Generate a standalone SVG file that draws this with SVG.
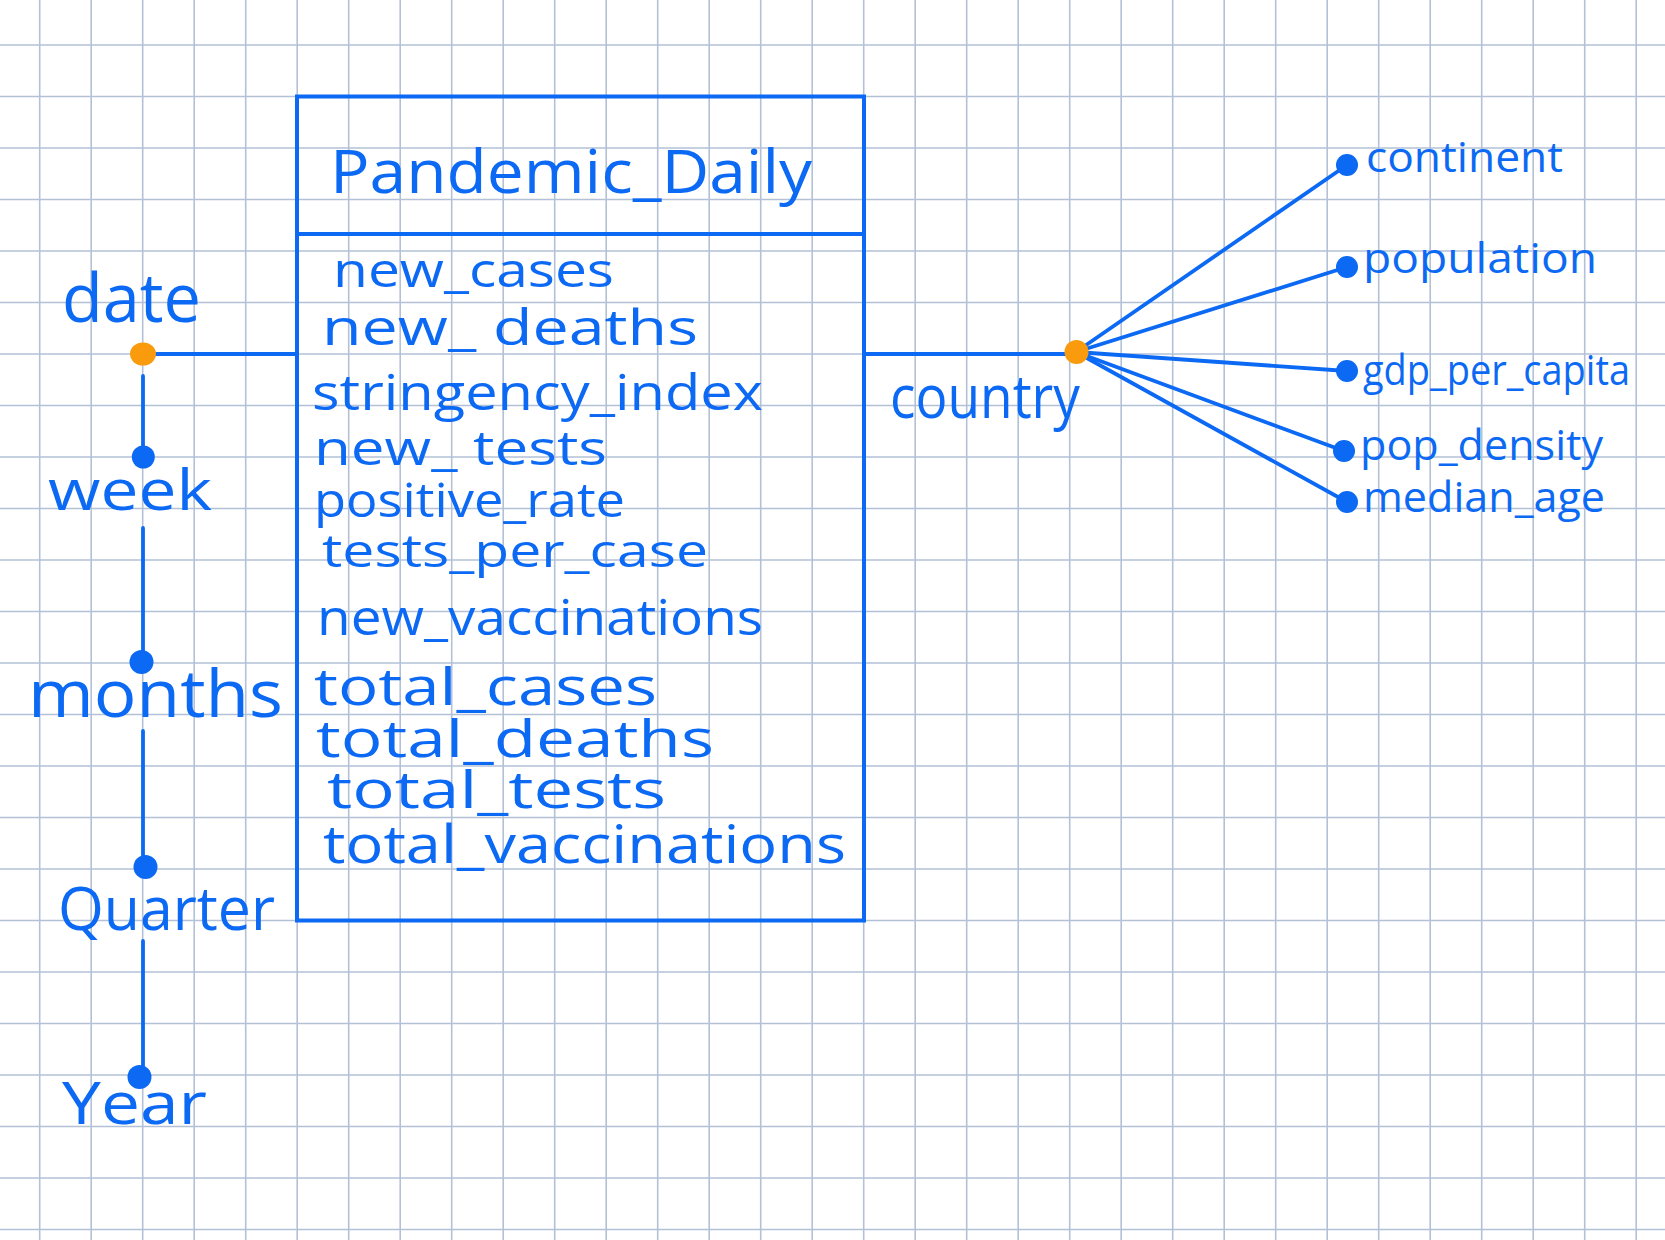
<svg xmlns="http://www.w3.org/2000/svg" width="1665" height="1240" viewBox="0 0 1665 1240">
<style>
.grid{stroke:#b3c1d8;stroke-width:1.6;fill:none}
.box{fill:none;stroke:#0b69f4;stroke-width:4}
.ln{stroke:#0b69f4;stroke-width:3.8;stroke-linecap:round;fill:none}
.dot{fill:#0b69f4}
.odot{fill:#f99b0c}
text{font-family:"Open Sans","Liberation Sans",sans-serif;fill:#0b69f4;font-weight:500}
</style>
<rect width="1665" height="1240" fill="#ffffff"/>
<path class="grid" d="M39.7 0V1240M91.2 0V1240M142.7 0V1240M194.2 0V1240M245.7 0V1240M297.2 0V1240M348.7 0V1240M400.2 0V1240M451.7 0V1240M503.2 0V1240M554.7 0V1240M606.2 0V1240M657.7 0V1240M709.2 0V1240M760.7 0V1240M812.2 0V1240M863.7 0V1240M915.2 0V1240M966.7 0V1240M1018.2 0V1240M1069.7 0V1240M1121.2 0V1240M1172.7 0V1240M1224.2 0V1240M1275.7 0V1240M1327.2 0V1240M1378.7 0V1240M1430.2 0V1240M1481.7 0V1240M1533.2 0V1240M1584.7 0V1240M1636.2 0V1240M0 45H1665M0 96.5H1665M0 148H1665M0 199.5H1665M0 251H1665M0 302.5H1665M0 354H1665M0 405.5H1665M0 457H1665M0 508.5H1665M0 560H1665M0 611.5H1665M0 663H1665M0 714.5H1665M0 766H1665M0 817.5H1665M0 869H1665M0 920.5H1665M0 972H1665M0 1023.5H1665M0 1075H1665M0 1126.5H1665M0 1178H1665M0 1229.5H1665"/>

<g id="connectors">
<path class="ln" d="M155 354H297"/>
<path class="ln" d="M864 354H1066"/>
<path class="ln" d="M143 376V447"/>
<path class="ln" d="M143 528V652"/>
<path class="ln" d="M143 731V862"/>
<path class="ln" d="M143 941V1072"/>
<path class="ln" d="M1076 352L1347 165"/>
<path class="ln" d="M1076 352L1347 267"/>
<path class="ln" d="M1076 352L1347 371"/>
<path class="ln" d="M1076 352L1344 451"/>
<path class="ln" d="M1076 352L1347 502"/>
</g>

<g id="table">
<rect class="box" x="297" y="96.5" width="567" height="824"/>
<line class="box" x1="297" y1="234" x2="864" y2="234"/>
<text x="330" y="193" font-size="60" textLength="482" lengthAdjust="spacingAndGlyphs">Pandemic_Daily</text>
<text x="333" y="287" font-size="48" textLength="281" lengthAdjust="spacingAndGlyphs">new_cases</text>
<text x="322" y="345" font-size="50" textLength="376" lengthAdjust="spacingAndGlyphs">new_ deaths</text>
<text x="312" y="410" font-size="50" textLength="451" lengthAdjust="spacingAndGlyphs">stringency_index</text>
<text x="314" y="465" font-size="48" textLength="293" lengthAdjust="spacingAndGlyphs">new_ tests</text>
<text x="314" y="517" font-size="48" textLength="311" lengthAdjust="spacingAndGlyphs">positive_rate</text>
<text x="322" y="567" font-size="46" textLength="386" lengthAdjust="spacingAndGlyphs">tests_per_case</text>
<text x="317" y="635" font-size="50" textLength="446" lengthAdjust="spacingAndGlyphs">new_vaccinations</text>
<text x="314" y="705" font-size="51" textLength="343" lengthAdjust="spacingAndGlyphs">total_cases</text>
<text x="316" y="757" font-size="51" textLength="398" lengthAdjust="spacingAndGlyphs">total_deaths</text>
<text x="327" y="808" font-size="51" textLength="339" lengthAdjust="spacingAndGlyphs">total_tests</text>
<text x="323" y="863" font-size="53" textLength="523" lengthAdjust="spacingAndGlyphs">total_vaccinations</text>
</g>

<g id="date">
<ellipse class="odot" cx="143" cy="354" rx="13" ry="11.5"/>
<text x="62" y="322" font-size="68" textLength="139" lengthAdjust="spacingAndGlyphs">date</text>
</g>
<g id="week">
<circle class="dot" cx="143.3" cy="457" r="11.5"/>
<text x="48" y="510" font-size="56" textLength="164" lengthAdjust="spacingAndGlyphs">week</text>
</g>
<g id="months">
<circle class="dot" cx="141.5" cy="662" r="12"/>
<text x="28" y="717" font-size="66" textLength="255" lengthAdjust="spacingAndGlyphs">months</text>
</g>
<g id="quarter">
<circle class="dot" cx="145.5" cy="867" r="12"/>
<text x="58" y="930" font-size="60" textLength="217" lengthAdjust="spacingAndGlyphs">Quarter</text>
</g>
<g id="year">
<circle class="dot" cx="139.5" cy="1077" r="12"/>
<text x="62" y="1124" font-size="58" textLength="145" lengthAdjust="spacingAndGlyphs">Year</text>
</g>

<g id="country">
<circle class="odot" cx="1076.5" cy="352" r="12"/>
<text x="890" y="418" font-size="60" textLength="190" lengthAdjust="spacingAndGlyphs">country</text>
</g>
<g id="continent">
<circle class="dot" cx="1347" cy="165" r="11"/>
<text x="1366" y="172" font-size="42" textLength="197" lengthAdjust="spacingAndGlyphs">continent</text>
</g>
<g id="population">
<circle class="dot" cx="1347" cy="267" r="11"/>
<text x="1363" y="273" font-size="42" textLength="234" lengthAdjust="spacingAndGlyphs">population</text>
</g>
<g id="gdp_per_capita">
<circle class="dot" cx="1347" cy="371" r="11"/>
<text x="1363" y="385" font-size="42" textLength="267" lengthAdjust="spacingAndGlyphs">gdp_per_capita</text>
</g>
<g id="pop_density">
<circle class="dot" cx="1344" cy="451" r="11"/>
<text x="1360" y="460" font-size="42" textLength="243" lengthAdjust="spacingAndGlyphs">pop_density</text>
</g>
<g id="median_age">
<circle class="dot" cx="1347" cy="502" r="11"/>
<text x="1363" y="512" font-size="42" textLength="242" lengthAdjust="spacingAndGlyphs">median_age</text>
</g>
</svg>
